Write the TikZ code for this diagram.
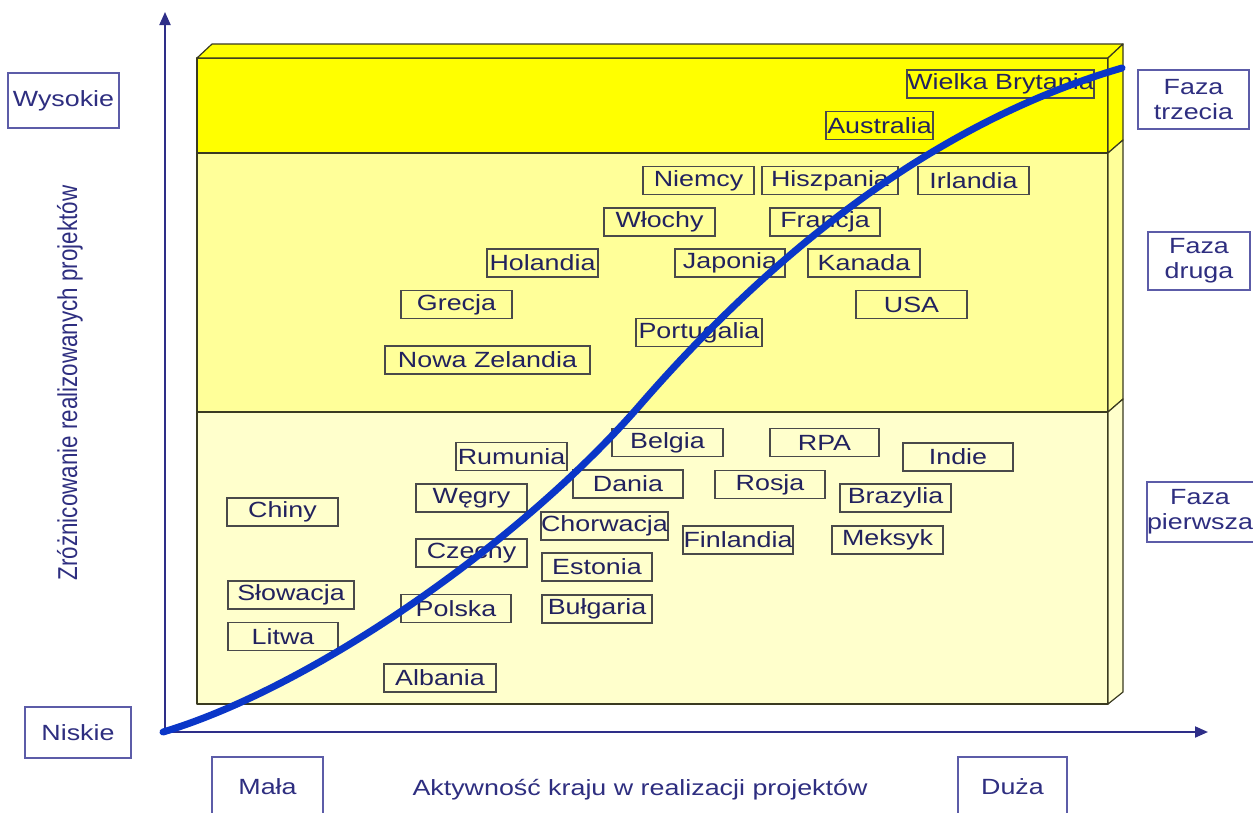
\documentclass[tikz,border=0pt]{standalone}
\usepackage{fontspec}
\setmainfont{Liberation Sans}
\newfontfamily\lblfont[FakeStretch=1.22]{Liberation Sans}
\usetikzlibrary{arrows.meta}
\definecolor{bandtop}{HTML}{FFFF00}
\definecolor{bandmid}{HTML}{FFFF99}
\definecolor{bandlow}{HTML}{FFFFCC}
\definecolor{edgecol}{HTML}{3A3A20}
\definecolor{axisblue}{HTML}{2E2E88}
\definecolor{curveblue}{HTML}{0A36C8}
\definecolor{ctext}{HTML}{22225E}
\definecolor{cborder}{HTML}{4A4A4A}
\definecolor{atext}{HTML}{2E2E80}
\definecolor{aborder}{HTML}{5C5CA8}
\begin{document}
\begin{tikzpicture}[x=1pt,y=-1pt,
  country/.style={draw=cborder, line width=1.4pt, text=ctext,
    font=\lblfont\fontsize{22}{25}\selectfont, inner sep=0pt, minimum height=28pt},
  axlabel/.style={draw=aborder, line width=1.3pt, fill=white, text=atext,
    font=\lblfont\fontsize{22}{25}\selectfont, inner sep=0pt, align=center},
  axtext/.style={text=atext, font=\lblfont\fontsize{22}{25}\selectfont, inner sep=0pt, align=center},
  face/.style={draw=edgecol, line width=1.2pt, line join=round},
  axisline/.style={draw=axisblue, line width=2pt, -{Triangle[length=13pt,width=11pt]}},
  scurve/.style={draw=curveblue, line width=7pt, line cap=round},
  axtitle/.style={text=atext, inner sep=0pt}
]
\useasboundingbox (0,0) rectangle (1253,812);
\clip (0,0) rectangle (1253,812);
\fill[white] (0,0) rectangle (1253,812);

% box: front bands
\fill[bandtop] (197,58) rectangle (1108,153);
\fill[bandmid] (197,153) rectangle (1108,412);
\fill[bandlow] (197,412) rectangle (1108,704);
\draw[face] (197,58) rectangle (1108,704);
\draw[face] (197,153) -- (1108,153);
\draw[face] (197,412) -- (1108,412);
% top face
\filldraw[face, fill=bandtop] (197,58) -- (212,44) -- (1123,44) -- (1108,58) -- cycle;
% right face
\filldraw[face, fill=bandtop] (1108,58) -- (1123,44) -- (1123,140) -- (1108,153) -- cycle;
\filldraw[face, fill=bandmid] (1108,153) -- (1123,140) -- (1123,399) -- (1108,412) -- cycle;
\filldraw[face, fill=bandlow] (1108,412) -- (1123,399) -- (1123,692) -- (1108,704) -- cycle;

% axes
\coordinate (origin) at (165,732);
\coordinate (ytip) at (165,12);
\coordinate (xtip) at (1208,732);
\draw[axisline] (origin) -- (ytip);
\draw[axisline] (origin) -- (xtip);

% axis labels
\node[axlabel, minimum width=111pt, minimum height=55pt] (wys) at (63.5,100.5) {Wysokie};
\node[axlabel, minimum width=106pt, minimum height=51pt] (nis) at (78,732.5) {Niskie};
\node[axlabel, minimum width=111pt, minimum height=59pt] (f3) at (1193.5,99.5) {Faza\\trzecia};
\node[axlabel, minimum width=102pt, minimum height=58pt] (f2) at (1199,261) {Faza\\druga};
\node[axlabel, minimum width=120pt, minimum height=60pt] (f1) at (1207,512) {};
\node[axtext] (f1text) at (1200,512) {Faza\\pierwsza};
\node[axlabel, minimum width=111pt, minimum height=60pt] (mala) at (267.5,787) {Mała};
\node[axlabel, minimum width=109pt, minimum height=60pt] (duza) at (1012.5,787) {Duża};
\node[axtitle, font=\lblfont\fontsize{22}{25}\selectfont] (xtitle) at (640,790) {Aktywność kraju w realizacji projektów};
\node[axtitle, rotate=90, font=\fontsize{22.4}{25}\selectfont] (ytitle) at (70,383)
  {\scalebox{1}[1.22]{Zróżnicowanie realizowanych projektów}};

% countries - phase three
\node[country, minimum width=187pt] (wb) at (1000.5,84) {Wielka Brytania};
\node[country, minimum width=107pt] (aus) at (879.5,125.5) {Australia};
% phase two
\node[country, minimum width=111pt] (nie) at (698.5,180.5) {Niemcy};
\node[country, minimum width=136pt] (his) at (830,180.5) {Hiszpania};
\node[country, minimum width=111pt] (irl) at (973.5,180.5) {Irlandia};
\node[country, minimum width=111pt] (wlo) at (659.5,222) {Włochy};
\node[country, minimum width=110pt] (fra) at (825,222) {Francja};
\node[country, minimum width=111pt] (hol) at (542.5,263) {Holandia};
\node[country, minimum width=110pt] (jap) at (730,263) {Japonia};
\node[country, minimum width=112pt] (kan) at (864,263) {Kanada};
\node[country, minimum width=111pt] (gre) at (456.5,304.5) {Grecja};
\node[country, minimum width=111pt] (usa) at (911.5,304.5) {USA};
\node[country, minimum width=126pt] (por) at (699,332.5) {Portugalia};
\node[country, minimum width=205pt] (nz) at (487.5,360) {Nowa Zelandia};
% phase one
\node[country, minimum width=111pt] (rum) at (511.5,456.5) {Rumunia};
\node[country, minimum width=111pt] (bel) at (667.5,442.5) {Belgia};
\node[country, minimum width=109pt] (rpa) at (824.5,442.5) {RPA};
\node[country, minimum width=110pt] (ind) at (958,457) {Indie};
\node[country, minimum width=110pt] (dan) at (628,484) {Dania};
\node[country, minimum width=110pt] (ros) at (770,484.5) {Rosja};
\node[country, minimum width=111pt] (weg) at (471.5,498) {Węgry};
\node[country, minimum width=111pt] (bra) at (895.5,498) {Brazylia};
\node[country, minimum width=111pt] (chi) at (282.5,512) {Chiny};
\node[country, minimum width=125pt] (cho) at (604.5,526) {Chorwacja};
\node[country, minimum width=110pt] (fin) at (738,540) {Finlandia};
\node[country, minimum width=111pt] (mek) at (887.5,540) {Meksyk};
\node[country, minimum width=111pt] (cze) at (471.5,553) {Czechy};
\node[country, minimum width=110pt] (est) at (597,567) {Estonia};
\node[country, minimum width=126pt] (slo) at (291,595) {Słowacja};
\node[country, minimum width=110pt] (pol) at (456,608.5) {Polska};
\node[country, minimum width=110pt] (bul) at (597,609) {Bułgaria};
\node[country, minimum width=110pt] (lit) at (283,636.5) {Litwa};
\node[country, minimum width=112pt] (alb) at (440,678) {Albania};

% S-curve
\coordinate (cstart) at (163,732);
\coordinate (cmid) at (640,405);
\coordinate (cend) at (1122,68);
\draw[scurve] (cstart) .. controls (313,687) and (520,543) .. (cmid)
  .. controls (760,267) and (922,126) .. (cend);
\end{tikzpicture}
\end{document}
